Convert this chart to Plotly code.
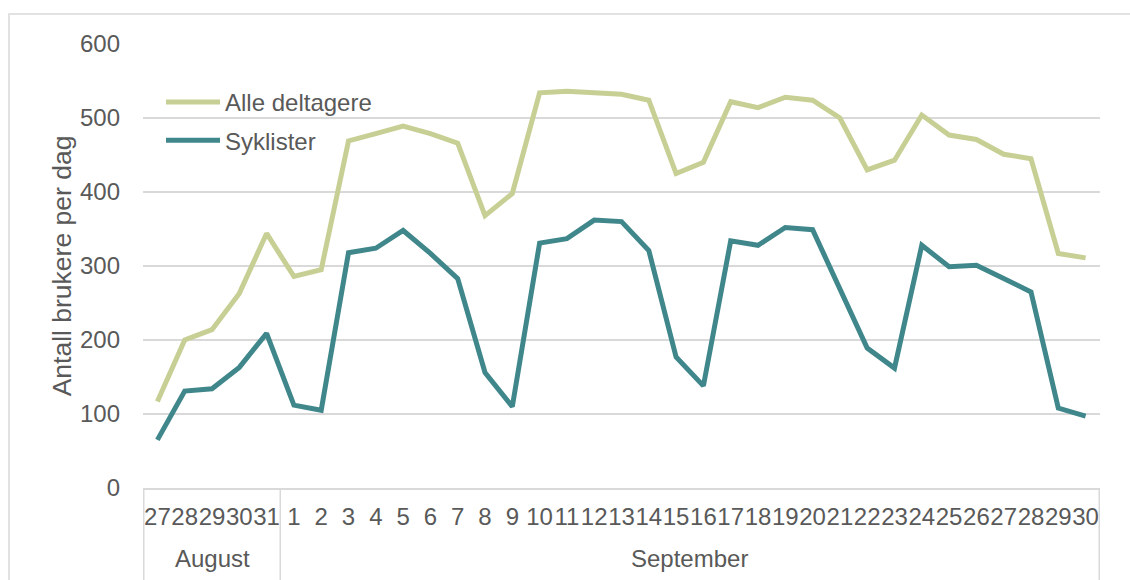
import plotly.graph_objects as go

month_names = ["August", "September"]
month_sizes = [5, 30]
days = ["27", "28", "29", "30", "31",
        "1", "2", "3", "4", "5", "6", "7", "8", "9", "10",
        "11", "12", "13", "14", "15", "16", "17", "18", "19", "20",
        "21", "22", "23", "24", "25", "26", "27", "28", "29", "30"]

alle_deltagere = [117, 200, 214, 263, 344, 286, 295, 469, 479, 489, 479, 466, 368, 398,
                  534, 536, 534, 532, 524, 425, 440, 522, 514, 528, 524, 500, 430, 443,
                  504, 477, 471, 451, 445, 317, 311]
syklister = [65, 131, 134, 163, 209, 112, 105, 318, 324, 348, 317, 283, 156, 110,
             331, 337, 362, 360, 321, 177, 138, 334, 328, 352, 349, 268, 189, 162,
             328, 299, 301, 283, 265, 108, 97]

GREEN = "#C8CF94"
TEAL = "#40878C"
TXT = "#595959"
GRID = "#D9D9D9"

W, H = 1130, 580
L, R, T, B = 143, 30, 44, 92
pw = W - L - R
ph = H - T - B

def px_x(p):
    return (p - L) / pw

def px_y(p):
    return (H - B - p) / ph

# unique category keys (month + day), displayed as day numbers only
months = []
for name, n in zip(month_names, month_sizes):
    months += [name] * n
keys = [f"{m} {d}" for m, d in zip(months, days)]

fig = go.Figure()
fig.add_trace(go.Scatter(x=keys, y=alle_deltagere, mode="lines",
                         name="Alle deltagere", legendgroup="a",
                         line=dict(color=GREEN, width=5)))
fig.add_trace(go.Scatter(x=keys, y=syklister, mode="lines",
                         name="Syklister", legendgroup="b",
                         line=dict(color=TEAL, width=5)))

fig.update_layout(
    width=W, height=H,
    margin=dict(l=L, r=R, t=T, b=B, pad=0),
    paper_bgcolor="white", plot_bgcolor="white",
    font=dict(family="Liberation Sans, Arial, sans-serif", size=24, color=TXT),
    legend=dict(x=px_x(161), y=px_y(80), xanchor="left", yanchor="top",
                bgcolor="rgba(0,0,0,0)", tracegroupgap=4, itemwidth=54,
                font=dict(size=24, color=TXT)),
    showlegend=True,
)
fig.update_yaxes(range=[0, 600], dtick=100, showgrid=True, gridcolor=GRID, gridwidth=1.5,
                 zeroline=False, showline=False, ticks="", ticklabelstandoff=22,
                 title=dict(text="Antall brukere per dag", standoff=0,
                            font=dict(size=26.5, color=TXT)),
                 tickfont=dict(size=24, color=TXT))
fig.update_xaxes(type="category", showgrid=False, showline=True, linecolor=GRID,
                 linewidth=1.5, tickangle=0, ticks="",
                 tickmode="array", tickvals=keys, ticktext=days,
                 ticklabelstandoff=6,
                 tickfont=dict(size=24, color=TXT))

# month group labels and dividers
start = 0
bounds = [-0.5]
for name, n in zip(month_names, month_sizes):
    center = start + (n - 1) / 2
    fig.add_annotation(x=center, y=px_y(558), xref="x", yref="paper", text=name,
                       showarrow=False, font=dict(size=24, color=TXT),
                       xanchor="center", yanchor="middle")
    start += n
    bounds.append(start - 0.5)
for b in bounds:
    fig.add_shape(type="line", xref="x", yref="paper", x0=b, x1=b,
                  y0=0, y1=px_y(600), line=dict(color=GRID, width=1.5))

fig.add_shape(type="rect", xref="paper", yref="paper",
              x0=px_x(9), x1=px_x(1140), y0=px_y(14), y1=px_y(600),
              line=dict(color=GRID, width=1.5), fillcolor="rgba(0,0,0,0)", layer="below")

fig.write_html("out.html")
